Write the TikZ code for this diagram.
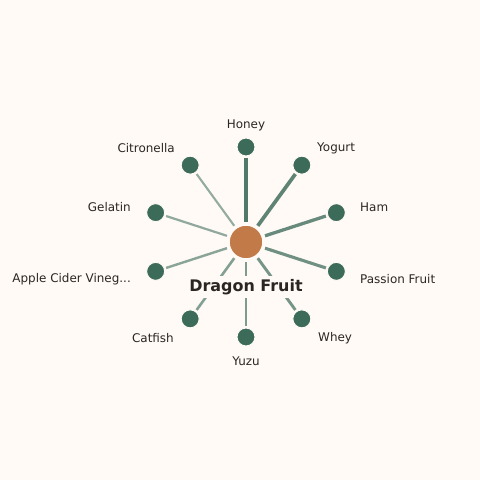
\documentclass[tikz,border=0pt]{standalone}
\usepackage{fontspec}
\setmainfont{DejaVu Sans}
\usetikzlibrary{calc}
\definecolor{bg}{HTML}{FFFAF6}
\definecolor{leaf}{HTML}{3D6B5A}
\definecolor{hub}{HTML}{C17A48}
\definecolor{txt}{HTML}{2B2622}
\tikzset{
  leafnode/.style={circle,fill=leaf,draw=bg,line width=1bp,minimum size=18bp,inner sep=0pt},
  hubnode/.style={circle,fill=hub,draw=bg,line width=1.5bp,minimum size=34bp,inner sep=0pt},
  lbl/.style={font=\fontsize{12}{14}\selectfont,text=txt,inner sep=0pt},
  spoke/.style={draw=leaf,line cap=butt},
}
\begin{document}
\begin{tikzpicture}[x=1bp,y=-1bp]
\fill[bg] (0,0) rectangle (480,480);
\useasboundingbox (0,0) rectangle (480,480);
\node[hubnode] (c) at (246,242) {};
\foreach \n/\a in {honey/90, yogurt/54, ham/18, passion/-18, whey/-54, yuzu/-90, catfish/-126, apple/-162, gelatin/162, citro/126}{
  \node[leafnode] (\n) at ($(246,242)+({95*cos(\a)},{-95*sin(\a)})$) {};
}
\foreach \n/\w/\o in {honey/4.2/0.9, yogurt/3.7/0.82, ham/3.3/0.78, passion/3.1/0.74, whey/2.9/0.7, yuzu/2.7/0.66, catfish/2.6/0.63, apple/2.4/0.6, gelatin/2.2/0.57, citro/2.1/0.55}{
  \draw[spoke,line width=\w bp,draw opacity=\o] ($(c)!20bp!(\n)$) -- ($(\n)!11bp!(c)$);
}
\node[lbl,fill=bg,inner xsep=2bp,inner ysep=3bp,font=\fontsize{16}{18}\selectfont\bfseries] (title) at (246,287) {Dragon Fruit};
\node[lbl,anchor=center] (lhoney) at (246,125) {Honey};
\node[lbl,anchor=west] (lyogurt) at (317,148) {Yogurt};
\node[lbl,anchor=west] (lham) at (360,207) {Ham};
\node[lbl,anchor=west] (lpassion) at (360,279) {Passion Fruit};
\node[lbl,anchor=west] (lwhey) at (318,338) {Whey};
\node[lbl,anchor=center] (lyuzu) at (246,361) {Yuzu};
\node[lbl,anchor=east] (lcatfish) at (174,338) {Catfish};
\node[lbl,anchor=east] (lapple) at (131,279) {Apple Cider Vineg...};
\node[lbl,anchor=east] (lgelatin) at (131,207) {Gelatin};
\node[lbl,anchor=east] (lcitro) at (175,148) {Citronella};
\end{tikzpicture}
\end{document}
